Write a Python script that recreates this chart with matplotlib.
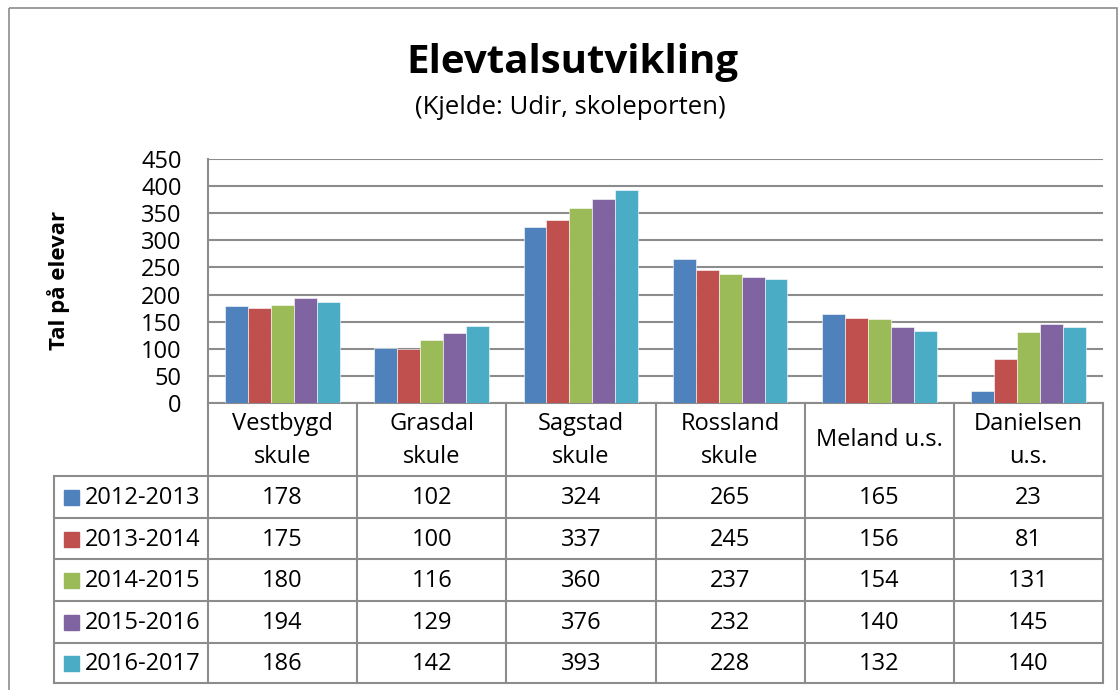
import matplotlib
matplotlib.use("Agg")
import matplotlib.pyplot as plt
from matplotlib.patches import Rectangle

plt.rcParams['font.family'] = ['Open Sans', 'DejaVu Sans']

# ---- data ----
categories = ["Vestbygd\nskule", "Grasdal\nskule", "Sagstad\nskule",
              "Rossland\nskule", "Meland u.s.", "Danielsen\nu.s."]
series_names = ["2012-2013", "2013-2014", "2014-2015", "2015-2016", "2016-2017"]
v2012 = [178, 102, 324, 265, 165, 23]
v2013 = [175, 100, 337, 245, 156, 81]
v2014 = [180, 116, 360, 237, 154, 131]
v2015 = [194, 129, 376, 232, 140, 145]
v2016 = [186, 142, 393, 228, 132, 140]
series_values = [v2012, v2013, v2014, v2015, v2016]
colors = ["#4F81BD", "#C0504D", "#9BBB59", "#8064A2", "#4BACC6"]
yticks = [0, 50, 100, 150, 200, 250, 300, 350, 400, 450]
title = "Elevtalsutvikling"
subtitle = "(Kjelde: Udir, skoleporten)"
ylabel = "Tal på elevar"

W, H = 1119, 690
fig = plt.figure(figsize=(W / 100, H / 100), dpi=100)

# overlay axes in pixel coordinates
ov = fig.add_axes([0, 0, 1, 1])
ov.set_xlim(0, W)
ov.set_ylim(H, 0)
ov.axis("off")

gridc = "#8C8C8C"
fs = 17
# outer chart border
ov.add_patch(Rectangle((9, 8), 1108, 700, fill=False, edgecolor="#8C8C8C", lw=1.2))

# plot area
pl, pr, pt, pb = 208, 1103, 159, 403
ax = fig.add_axes([pl / W, 1 - pb / H, (pr - pl) / W, (pb - pt) / H])
ax.set_zorder(2)
ax.patch.set_alpha(0)
n = len(categories)
ns = len(series_names)
bw = 1.0 / (ns + 1.5)
for i, (vals, c) in enumerate(zip(series_values, colors)):
    xs = [k + 0.5 + (i - (ns - 1) / 2) * bw for k in range(n)]
    ax.bar(xs, vals, width=bw, color=c, edgecolor="white", linewidth=0.4, zorder=3)
ax.set_xlim(0, n)
ax.set_ylim(0, 450)
ax.set_yticks(yticks)
ax.set_yticklabels([str(t) for t in yticks], fontsize=fs)
ax.tick_params(axis="y", length=0, pad=19)
ax.set_xticks([])
ax.yaxis.grid(True, color=gridc, lw=1.5, zorder=0)
ax.set_axisbelow(True)
for s in ["top", "right", "bottom"]:
    ax.spines[s].set_visible(False)
ax.spines["left"].set_color(gridc)
ax.spines["left"].set_linewidth(1.5)

# titles
ov.text(572, 62, title, ha="center", va="center", fontsize=29, fontweight="bold")
ov.text(570, 107, subtitle, ha="center", va="center", fontsize=18.5)
ov.text(59, 280, ylabel, ha="center", va="center", rotation=90, fontsize=16, fontweight="bold")

# data table
colw = (pr - pl) / n
row_lines = [476, 518, 559, 601, 643, 683]
leg_l = 54
ov.plot([pl, pr], [pb, pb], color=gridc, lw=1.5)
for y in row_lines:
    ov.plot([leg_l, pr], [y, y], color=gridc, lw=1.5)
for k in range(n + 1):
    x = pl + k * colw
    ov.plot([x, x], [pb, row_lines[-1]], color=gridc, lw=1.5)
ov.plot([leg_l, leg_l], [row_lines[0], row_lines[-1]], color=gridc, lw=1.5)

for k, cat in enumerate(categories):
    ov.text(pl + (k + 0.5) * colw, (pb + row_lines[0]) / 2 + 1, cat, ha="center",
            va="center", fontsize=fs, linespacing=1.45)
for i, (name, vals, c) in enumerate(zip(series_names, series_values, colors)):
    yc = (row_lines[i] + row_lines[i + 1]) / 2 + 1
    ov.add_patch(Rectangle((64, yc - 8), 15, 15, color=c))
    ov.text(85, yc, name, ha="left", va="center", fontsize=fs)
    for k, v in enumerate(vals):
        ov.text(pl + (k + 0.5) * colw, yc, str(v), ha="center", va="center", fontsize=fs)

fig.savefig("out.png", dpi=100)
